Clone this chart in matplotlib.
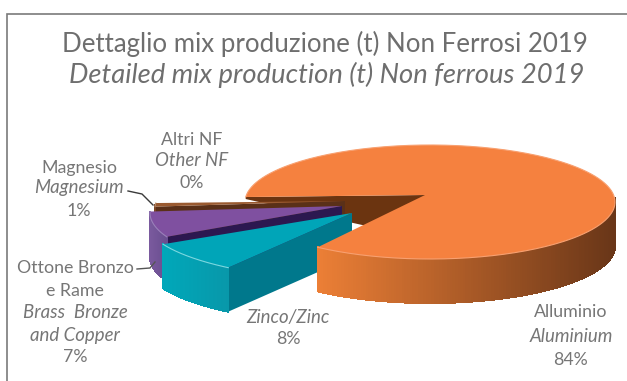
import numpy as np
import matplotlib
matplotlib.use("Agg")
import matplotlib.pyplot as plt
from matplotlib.colors import to_rgb

title_it = "Dettaglio mix produzione (t) Non Ferrosi 2019"
title_en = "Detailed mix production (t) Non ferrous 2019"

# slice order follows the pie, clockwise from the left edge going down
names = ["Altri NF", "Magnesio", "Ottone Bronzo e Rame", "Zinco", "Alluminio"]
values = [0, 1, 7, 8, 84]

START = -5
DEPTH = 44
apex = {"Magnesio": (345, 201), "Ottone Bronzo e Rame": (342, 206), "Zinco": (352, 213), "Alluminio": (425, 195)}
radius = {"Magnesio": (195, 57), "Ottone Bronzo e Rame": (197, 59), "Zinco": (212, 60), "Alluminio": (185, 57)}
top_col = {"Magnesio": "#9A5A30", "Ottone Bronzo e Rame": "#7F50A0", "Zinco": "#00A5B8", "Alluminio": "#F5813F"}
rim_col = {"Magnesio": ("#7A4526", "#7A4526"), "Ottone Bronzo e Rame": ("#7A5A9E", "#6A4E90"),
           "Zinco": ("#00A8BA", "#0898AA"), "Alluminio": ("#EC7F36", "#693618")}
face_col = {"Magnesio": "#5A3018", "Ottone Bronzo e Rame": "#2C1850", "Zinco": "#00788C", "Alluminio": "#6B3410"}
edge_col = {"Magnesio": "#B89070", "Ottone Bronzo e Rame": "#9A80BA", "Zinco": "#7CD8E0", "Alluminio": "#F8A070"}

plt.rcParams["font.family"] = ["Lato", "DejaVu Sans"]
fig = plt.figure(figsize=(6.27, 3.81), dpi=100)
ax = fig.add_axes([0, 0, 1, 1])
ax.set_xlim(0, 627)
ax.set_ylim(381, 0)
ax.axis("off")

GREY = "#767676"


def rim_point(name, phi):
    # the ellipse centre sits a bit below and right of the wedge tip
    cx, cy = apex[name]
    rx, ry = radius[name]
    return cx + 5 - rx * np.cos(np.radians(phi)), cy + 7 + ry * np.sin(np.radians(phi))


def draw_face(name, phi, z, rim_depth=DEPTH):
    cx, cy = apex[name]
    x, y = rim_point(name, phi)
    ax.fill([cx, x, x, cx], [cy, y, y + rim_depth, cy + DEPTH], color=face_col[name], lw=0, zorder=z)


def draw_rim(name, phi1, phi2, z):
    # only the part of the outer wall that faces the viewer
    a, b = max(phi1, -3), min(phi2, 184)
    if b <= a:
        return
    c1, c2 = np.array(to_rgb(rim_col[name][0])), np.array(to_rgb(rim_col[name][1]))
    steps = np.linspace(a, b, 160)
    x_a, x_b = rim_point(name, a)[0], rim_point(name, b)[0]
    for s, e in zip(steps[:-1], steps[1:]):
        x1, y1 = rim_point(name, s)
        x2, y2 = rim_point(name, e)
        col = c1 + (c2 - c1) * (x1 - x_a) / (x_b - x_a)
        ax.fill([x1, x2, x2, x1], [y1, y2, y2 + DEPTH, y1 + DEPTH], color=col, lw=0.8,
                antialiased=False, zorder=z)


def draw_top(name, phi1, phi2, z):
    cx, cy = apex[name]
    phis = np.linspace(phi1, phi2, 240)
    xs = [cx] + [rim_point(name, p)[0] for p in phis]
    ys = [cy] + [rim_point(name, p)[1] for p in phis]
    ax.fill(xs, ys, facecolor=top_col[name], edgecolor="none", zorder=z)
    ax.plot(xs[1:], ys[1:], color=edge_col[name], lw=0.8, zorder=z)


# angles come from the percentages
spans = {}
start = START
for n, v in zip(names, values):
    spans[n] = (start, start + v * 3.6)
    start += v * 3.6

# inner cut of the big slice sits behind everything, it thins out to the left
draw_face("Alluminio", spans["Alluminio"][1], 1, rim_depth=2)

z = 2
for n, v in zip(names[:-1], values[:-1]):
    if v == 0:
        continue
    a, b = spans[n]
    draw_face(n, b, z)
    draw_rim(n, a, b, z + 1)
    draw_top(n, a, b, z + 2)
    z += 3

a, b = spans["Alluminio"]
draw_rim("Alluminio", a, b, 20)
draw_top("Alluminio", a, b, 21)

# frame
ax.plot([7, 7, 627], [381, 14, 14], color="#7A7A7A", lw=1.2, zorder=30, solid_joinstyle="miter")

ax.text(325, 44, title_it, ha="center", va="center", fontsize=18.6, color="#6E6E6E")
ax.text(327, 75, title_en, ha="center", va="center", fontsize=19.7, color="#6E6E6E", style="italic")


def label(x, ys, lines):
    for y, (txt, st) in zip(ys, lines):
        size = 13.4 if st == "italic" else 12.8
        ax.text(x, y, txt, ha="center", va="center", fontsize=size, color=GREY, style=st, zorder=31)


label(192, [140, 160, 183], [("Altri NF", "normal"), ("Other NF", "italic"), ("0%", "normal")])
label(79, [168, 188, 211], [("Magnesio", "normal"), ("Magnesium", "italic"), ("1%", "normal")])
label(75, [268, 291, 312, 335, 357], [("Ottone Bronzo", "normal"), ("e Rame", "normal"),
                                     ("Brass  Bronze", "italic"), ("and Copper", "italic"), ("7%", "normal")])
label(288, [317, 339], [("Zinco/Zinc", "italic"), ("8%", "normal")])
label(571, [312, 336, 360], [("Alluminio", "normal"), ("Aluminium", "italic"), ("84%", "normal")])

# leader lines
ax.plot([128, 142, 153], [191, 194, 205], color="#3A3A3A", lw=1, zorder=31)
ax.plot([137, 150, 155], [269, 268, 262], color="#555555", lw=1, zorder=31)

fig.savefig("out.png", dpi=100)
